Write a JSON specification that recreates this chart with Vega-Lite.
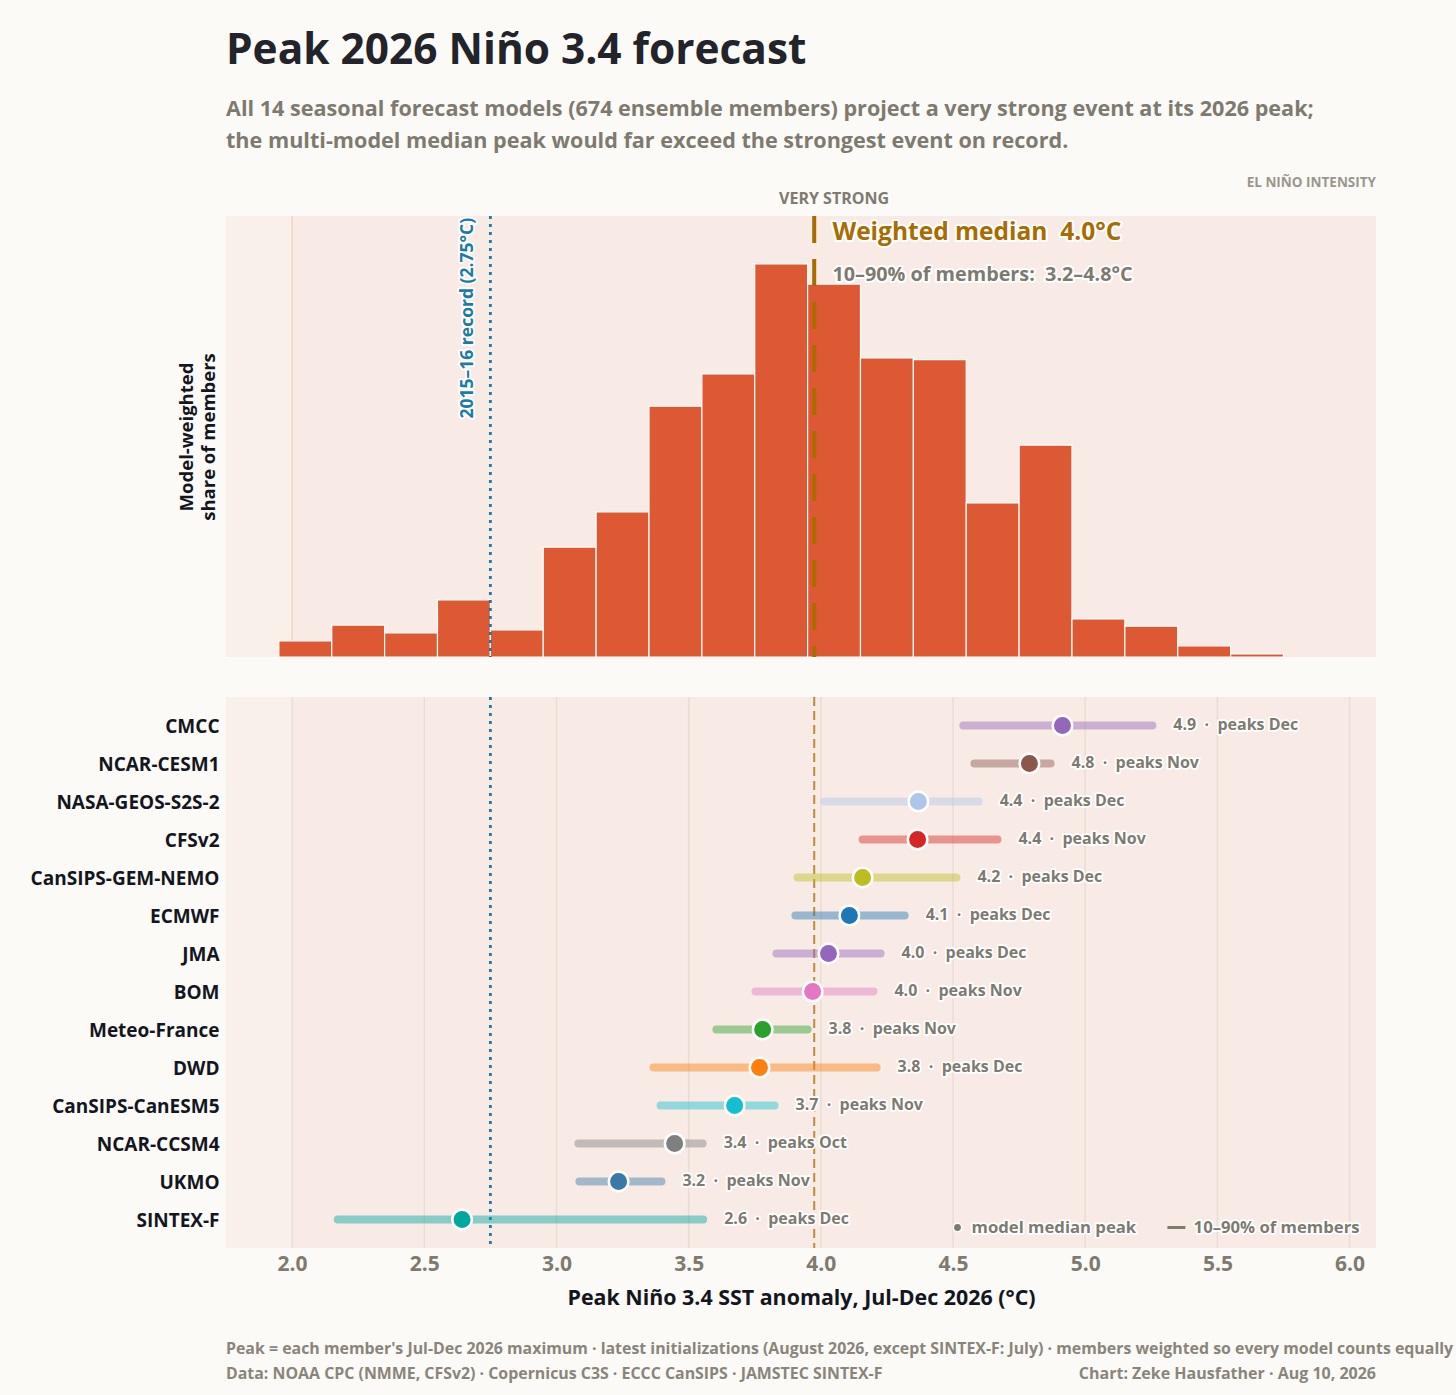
{
  "$schema": "https://vega.github.io/schema/vega-lite/v6.json",
  "background": "#fcfaf6",
  "padding": {"left": 30, "top": 29, "right": 3, "bottom": 8},
  "bounds": "flush",
  "spacing": 40,
  "title": {
    "text": "Peak 2026 Niño 3.4 forecast",
    "subtitle": ["All 14 seasonal forecast models (674 ensemble members) project a very strong event at its 2026 peak;", "the multi-model median peak would far exceed the strongest event on record."],
    "anchor": "start",
    "frame": "group",
    "fontSize": 42.4,
    "fontWeight": 700,
    "color": "#22232b",
    "subtitleFontSize": 21.6,
    "subtitleFontWeight": 700,
    "subtitleColor": "#7f7a70",
    "subtitleLineHeight": 32,
    "subtitlePadding": 26,
    "offset": 22
  },
  "config": {
    "font": "Open Sans",
    "view": {"stroke": null}
  },
  "datasets": {
    "grid": [{"x": 2.0}, {"x": 2.5}, {"x": 3.0}, {"x": 3.5}, {"x": 4.0}, {"x": 4.5}, {"x": 5.0}, {"x": 5.5}, {"x": 6.0}],
    "bins": [
      {"x": 1.95, "x2": 2.15, "share": 0.58},
      {"x": 2.15, "x2": 2.35, "share": 1.16},
      {"x": 2.35, "x2": 2.55, "share": 0.87},
      {"x": 2.55, "x2": 2.75, "share": 2.07},
      {"x": 2.75, "x2": 2.95, "share": 0.98},
      {"x": 2.95, "x2": 3.15, "share": 3.99},
      {"x": 3.15, "x2": 3.35, "share": 5.26},
      {"x": 3.35, "x2": 3.55, "share": 9.1},
      {"x": 3.55, "x2": 3.75, "share": 10.27},
      {"x": 3.75, "x2": 3.95, "share": 14.26},
      {"x": 3.95, "x2": 4.15, "share": 13.53},
      {"x": 4.15, "x2": 4.35, "share": 10.85},
      {"x": 4.35, "x2": 4.55, "share": 10.79},
      {"x": 4.55, "x2": 4.75, "share": 5.59},
      {"x": 4.75, "x2": 4.95, "share": 7.69},
      {"x": 4.95, "x2": 5.15, "share": 1.38},
      {"x": 5.15, "x2": 5.35, "share": 1.12},
      {"x": 5.35, "x2": 5.55, "share": 0.4},
      {"x": 5.55, "x2": 5.75, "share": 0.11}
    ],
    "models": [
      {"model": "CMCC", "low": 4.539, "high": 5.254, "median": 4.914, "label": "4.9\u00a0\u00a0·\u00a0\u00a0peaks Dec"},
      {"model": "NCAR-CESM1", "low": 4.581, "high": 4.869, "median": 4.789, "label": "4.8\u00a0\u00a0·\u00a0\u00a0peaks Nov"},
      {"model": "NASA-GEOS-S2S-2", "low": 4.014, "high": 4.597, "median": 4.369, "label": "4.4\u00a0\u00a0·\u00a0\u00a0peaks Dec"},
      {"model": "CFSv2", "low": 4.158, "high": 4.668, "median": 4.366, "label": "4.4\u00a0\u00a0·\u00a0\u00a0peaks Nov"},
      {"model": "CanSIPS-GEM-NEMO", "low": 3.912, "high": 4.513, "median": 4.158, "label": "4.2\u00a0\u00a0·\u00a0\u00a0peaks Dec"},
      {"model": "ECMWF", "low": 3.904, "high": 4.317, "median": 4.108, "label": "4.1\u00a0\u00a0·\u00a0\u00a0peaks Dec"},
      {"model": "JMA", "low": 3.832, "high": 4.226, "median": 4.029, "label": "4.0\u00a0\u00a0·\u00a0\u00a0peaks Dec"},
      {"model": "BOM", "low": 3.753, "high": 4.199, "median": 3.969, "label": "4.0\u00a0\u00a0·\u00a0\u00a0peaks Nov"},
      {"model": "Meteo-France", "low": 3.605, "high": 3.95, "median": 3.78, "label": "3.8\u00a0\u00a0·\u00a0\u00a0peaks Nov"},
      {"model": "DWD", "low": 3.367, "high": 4.211, "median": 3.768, "label": "3.8\u00a0\u00a0·\u00a0\u00a0peaks Dec"},
      {"model": "CanSIPS-CanESM5", "low": 3.394, "high": 3.825, "median": 3.674, "label": "3.7\u00a0\u00a0·\u00a0\u00a0peaks Nov"},
      {"model": "NCAR-CCSM4", "low": 3.083, "high": 3.553, "median": 3.447, "label": "3.4\u00a0\u00a0·\u00a0\u00a0peaks Oct"},
      {"model": "UKMO", "low": 3.087, "high": 3.397, "median": 3.235, "label": "3.2\u00a0\u00a0·\u00a0\u00a0peaks Nov"},
      {"model": "SINTEX-F", "low": 2.173, "high": 3.555, "median": 2.643, "label": "2.6\u00a0\u00a0·\u00a0\u00a0peaks Dec"}
    ]
  },
  "vconcat": [
    {
      "width": 1150,
      "height": 441,
      "layer": [
        {
          "data": {"values": [{"x": 1.75, "x2": 2.0}]},
          "mark": {"type": "rect", "color": "#f9f0ea"},
          "encoding": {
            "x": {"field": "x", "type": "quantitative", "scale": {"domain": [1.75, 6.1], "nice": false, "zero": false}, "axis": null},
            "x2": {"field": "x2"}
          }
        },
        {
          "data": {"values": [{"x": 2.0, "x2": 6.1}]},
          "mark": {"type": "rect", "color": "#f8ebe6"},
          "encoding": {
            "x": {"field": "x", "type": "quantitative"},
            "x2": {"field": "x2"}
          }
        },
        {
          "data": {"values": [{"x": 2.0}]},
          "mark": {"type": "rule", "color": "#f5d2c6", "strokeWidth": 1.5},
          "encoding": {"x": {"field": "x", "type": "quantitative"}}
        },
        {
          "data": {"name": "bins"},
          "mark": {"type": "bar", "color": "#dc5933", "stroke": "#ffffff", "strokeWidth": 1.2},
          "encoding": {
            "x": {"field": "x", "type": "quantitative"},
            "x2": {"field": "x2"},
            "y": {
              "field": "share",
              "type": "quantitative",
              "stack": null,
              "scale": {"domain": [0, 16], "nice": false},
              "axis": {
                "title": ["Model-weighted", "share of members"],
                "labels": false,
                "ticks": false,
                "domain": false,
                "grid": false,
                "titleFontSize": 18.5,
                "titleFontWeight": 700,
                "titleColor": "#14161f",
                "titleLineHeight": 22,
                "titlePadding": 8
              }
            },
            "y2": {"datum": 0}
          }
        },
        {
          "data": {"values": [{"x": 2.75}]},
          "mark": {"type": "rule", "color": "#1a7ba6", "strokeWidth": 2.8, "strokeDash": [3, 5]},
          "encoding": {"x": {"field": "x", "type": "quantitative"}}
        },
        {
          "data": {"values": [{"x": 3.975}]},
          "mark": {"type": "rule", "color": "#a86c00", "strokeWidth": 4, "strokeDash": [27, 16]},
          "encoding": {"x": {"field": "x", "type": "quantitative"}}
        },
        {
          "data": {"values": [{"x": 4.05, "y": 16.62, "text": "VERY STRONG"}]},
          "mark": {"type": "text", "fontSize": 16, "fontWeight": 700, "color": "#7f7a70", "align": "center", "baseline": "middle"},
          "encoding": {"x": {"field": "x", "type": "quantitative"}, "y": {"field": "y", "type": "quantitative"}, "text": {"field": "text"}}
        },
        {
          "data": {"values": [{"x": 6.1, "y": 17.2, "text": "EL NIÑO INTENSITY"}]},
          "mark": {"type": "text", "fontSize": 13.5, "fontWeight": 700, "color": "#9a968c", "align": "right", "baseline": "middle"},
          "encoding": {"x": {"field": "x", "type": "quantitative"}, "y": {"field": "y", "type": "quantitative"}, "text": {"field": "text"}}
        },
        {
          "data": {"values": [{"x": 2.667, "y": 15.93, "text": "2015–16 record (2.75°C)"}]},
          "mark": {"type": "text", "fontSize": 17.5, "fontWeight": 700, "angle": 270, "align": "right", "baseline": "middle", "stroke": "#ffffff", "strokeWidth": 3.5, "strokeJoin": "round"},
          "encoding": {"x": {"field": "x", "type": "quantitative"}, "y": {"field": "y", "type": "quantitative"}, "text": {"field": "text"}}
        },
        {
          "data": {"values": [{"x": 2.667, "y": 15.93, "text": "2015–16 record (2.75°C)"}]},
          "mark": {"type": "text", "fontSize": 17.5, "fontWeight": 700, "angle": 270, "align": "right", "baseline": "middle", "color": "#1a7ba6"},
          "encoding": {"x": {"field": "x", "type": "quantitative"}, "y": {"field": "y", "type": "quantitative"}, "text": {"field": "text"}}
        },
        {
          "data": {"values": [{"x": 4.044, "y": 15.38, "text": "Weighted median\u00a0\u00a04.0°C"}]},
          "mark": {"type": "text", "fontSize": 24.5, "fontWeight": 700, "align": "left", "baseline": "middle", "stroke": "#ffffff", "strokeWidth": 4, "strokeJoin": "round"},
          "encoding": {"x": {"field": "x", "type": "quantitative"}, "y": {"field": "y", "type": "quantitative"}, "text": {"field": "text"}}
        },
        {
          "data": {"values": [{"x": 4.044, "y": 15.38, "text": "Weighted median\u00a0\u00a04.0°C"}]},
          "mark": {"type": "text", "fontSize": 24.5, "fontWeight": 700, "align": "left", "baseline": "middle", "color": "#a86c00"},
          "encoding": {"x": {"field": "x", "type": "quantitative"}, "y": {"field": "y", "type": "quantitative"}, "text": {"field": "text"}}
        },
        {
          "data": {"values": [{"x": 4.044, "y": 13.86, "text": "10–90% of members:\u00a0\u00a03.2–4.8°C"}]},
          "mark": {"type": "text", "fontSize": 19.8, "fontWeight": 700, "align": "left", "baseline": "middle", "stroke": "#ffffff", "strokeWidth": 4, "strokeJoin": "round"},
          "encoding": {"x": {"field": "x", "type": "quantitative"}, "y": {"field": "y", "type": "quantitative"}, "text": {"field": "text"}}
        },
        {
          "data": {"values": [{"x": 4.044, "y": 13.86, "text": "10–90% of members:\u00a0\u00a03.2–4.8°C"}]},
          "mark": {"type": "text", "fontSize": 19.8, "fontWeight": 700, "align": "left", "baseline": "middle", "color": "#7f7a70"},
          "encoding": {"x": {"field": "x", "type": "quantitative"}, "y": {"field": "y", "type": "quantitative"}, "text": {"field": "text"}}
        }
      ]
    },
    {
      "width": 1150,
      "height": 551,
      "layer": [
        {
          "data": {"values": [{"x": 1.75, "x2": 2.0}]},
          "mark": {"type": "rect", "color": "#f9f0ea"},
          "encoding": {
            "x": {
              "field": "x",
              "type": "quantitative",
              "scale": {"domain": [1.75, 6.1], "nice": false, "zero": false},
              "axis": {
                "values": [2, 2.5, 3, 3.5, 4, 4.5, 5, 5.5, 6],
                "format": ".1f",
                "title": "Peak Niño 3.4 SST anomaly, Jul-Dec 2026 (°C)",
                "grid": false,
                "ticks": false,
                "domain": false,
                "labelFontSize": 21,
                "labelFontWeight": 700,
                "labelColor": "#7f7a70",
                "labelPadding": 5,
                "titleFontSize": 21.4,
                "titleFontWeight": 700,
                "titleColor": "#14161f",
                "titlePadding": 13
              }
            },
            "x2": {"field": "x2"}
          }
        },
        {
          "data": {"values": [{"x": 2.0, "x2": 6.1}]},
          "mark": {"type": "rect", "color": "#f8ebe6"},
          "encoding": {
            "x": {"field": "x", "type": "quantitative"},
            "x2": {"field": "x2"}
          }
        },
        {
          "data": {"name": "grid"},
          "mark": {"type": "rule", "color": "#b5ad98", "strokeWidth": 1.5, "opacity": 0.22},
          "encoding": {"x": {"field": "x", "type": "quantitative"}}
        },
        {
          "data": {"values": [{"x": 2.75}]},
          "mark": {"type": "rule", "color": "#1a7ba6", "strokeWidth": 2.8, "strokeDash": [3, 5]},
          "encoding": {"x": {"field": "x", "type": "quantitative"}}
        },
        {
          "data": {"values": [{"x": 3.975}]},
          "mark": {"type": "rule", "color": "#a86c00", "strokeWidth": 2, "opacity": 0.75, "strokeDash": [9, 5]},
          "encoding": {"x": {"field": "x", "type": "quantitative"}}
        },
        {
          "data": {"name": "models"},
          "encoding": {
            "y": {
              "field": "model",
              "type": "nominal",
              "sort": null,
              "scale": {"type": "point", "padding": 0.75, "domain": ["CMCC", "NCAR-CESM1", "NASA-GEOS-S2S-2", "CFSv2", "CanSIPS-GEM-NEMO", "ECMWF", "JMA", "BOM", "Meteo-France", "DWD", "CanSIPS-CanESM5", "NCAR-CCSM4", "UKMO", "SINTEX-F"]},
              "axis": {
                "title": null,
                "ticks": false,
                "domain": false,
                "grid": false,
                "labelFontSize": 19,
                "labelFontWeight": 700,
                "labelColor": "#14161f",
                "labelPadding": 7,
                "labelOffset": 0.5,
                "labelLimit": 300
              }
            }
          },
          "layer": [
            {
              "mark": {"type": "rule", "strokeWidth": 8, "strokeCap": "round", "opacity": 0.45},
              "encoding": {
                "x": {"field": "low", "type": "quantitative"},
                "x2": {"field": "high"},
                "color": {
                  "field": "model",
                  "type": "nominal",
                  "scale": {
                    "domain": ["CMCC", "NCAR-CESM1", "NASA-GEOS-S2S-2", "CFSv2", "CanSIPS-GEM-NEMO", "ECMWF", "JMA", "BOM", "Meteo-France", "DWD", "CanSIPS-CanESM5", "NCAR-CCSM4", "UKMO", "SINTEX-F"],
                    "range": ["#9467bd", "#8c564b", "#aec7e8", "#d62728", "#bcbd22", "#1f77b4", "#9467bd", "#e377c2", "#2ca02c", "#ff7f0e", "#17becf", "#7f7f7f", "#3a78a8", "#00a79d"]
                  },
                  "legend": null
                }
              }
            },
            {
              "mark": {"type": "point", "shape": "circle", "filled": true, "size": 380, "opacity": 1, "stroke": "#ffffff", "strokeWidth": 2.5},
              "encoding": {
                "x": {"field": "median", "type": "quantitative"},
                "color": {"field": "model", "type": "nominal"}
              }
            },
            {
              "mark": {"type": "text", "fontSize": 16, "fontWeight": 700, "align": "left", "baseline": "middle", "dx": 21, "dy": -1, "stroke": "#ffffff", "strokeWidth": 3.5, "strokeJoin": "round"},
              "encoding": {"x": {"field": "high", "type": "quantitative"}, "text": {"field": "label"}}
            },
            {
              "mark": {"type": "text", "fontSize": 16, "fontWeight": 700, "align": "left", "baseline": "middle", "dx": 21, "dy": -1, "color": "#7f7a70"},
              "encoding": {"x": {"field": "high", "type": "quantitative"}, "text": {"field": "label"}}
            }
          ]
        },
        {
          "data": {"values": [{"x": 4.57, "model": "SINTEX-F", "text": "model median peak"}, {"x": 5.41, "model": "SINTEX-F", "text": "10–90% of members"}]},
          "encoding": {
            "x": {"field": "x", "type": "quantitative"},
            "y": {"field": "model", "type": "nominal", "sort": null},
            "text": {"field": "text"}
          },
          "layer": [
            {"mark": {"type": "text", "fontSize": 16.7, "fontWeight": 700, "align": "left", "baseline": "middle", "dy": 8, "stroke": "#ffffff", "strokeWidth": 3.5, "strokeJoin": "round"}},
            {"mark": {"type": "text", "fontSize": 16.7, "fontWeight": 700, "align": "left", "baseline": "middle", "dy": 8, "color": "#7f7a70"}}
          ]
        },
        {
          "data": {"values": [{"x": 4.517, "model": "SINTEX-F"}]},
          "mark": {"type": "point", "shape": "circle", "filled": true, "size": 70, "opacity": 1, "color": "#7f7a70", "yOffset": 8, "stroke": "#ffffff", "strokeWidth": 1.5},
          "encoding": {"x": {"field": "x", "type": "quantitative"}, "y": {"field": "model", "type": "nominal", "sort": null}}
        },
        {
          "data": {"values": [{"x": 5.311, "x2": 5.379, "model": "SINTEX-F"}]},
          "mark": {"type": "rule", "color": "#7f7a70", "strokeWidth": 3, "yOffset": 8},
          "encoding": {"x": {"field": "x", "type": "quantitative"}, "x2": {"field": "x2"}, "y": {"field": "model", "type": "nominal", "sort": null}}
        }
      ]
    },
    {
      "width": 1150,
      "height": 98.5,
      "layer": [
        {
          "data": {"values": [
            {"x": 1.75, "line": 1, "text": "Peak = each member's Jul-Dec 2026 maximum · latest initializations (August 2026, except SINTEX-F: July) · members weighted so every model counts equally"},
            {"x": 1.75, "line": 2, "text": "Data: NOAA CPC (NMME, CFSv2) · Copernicus C3S · ECCC CanSIPS · JAMSTEC SINTEX-F"}
          ]},
          "mark": {"type": "text", "fontSize": 15.9, "fontWeight": 700, "align": "left", "baseline": "middle", "color": "#8a857b"},
          "encoding": {
            "x": {"field": "x", "type": "quantitative", "scale": {"domain": [1.75, 6.1], "nice": false, "zero": false}, "axis": null},
            "y": {"field": "line", "type": "quantitative", "scale": {"domain": [2.5, -1.44], "nice": false, "zero": false}, "axis": null},
            "text": {"field": "text"}
          }
        },
        {
          "data": {"values": [{"x": 6.1, "line": 2, "text": "Chart: Zeke Hausfather · Aug 10, 2026"}]},
          "mark": {"type": "text", "fontSize": 16, "fontWeight": 700, "align": "right", "baseline": "middle", "color": "#8a857b"},
          "encoding": {
            "x": {"field": "x", "type": "quantitative"},
            "y": {"field": "line", "type": "quantitative"},
            "text": {"field": "text"}
          }
        }
      ]
    }
  ]
}
